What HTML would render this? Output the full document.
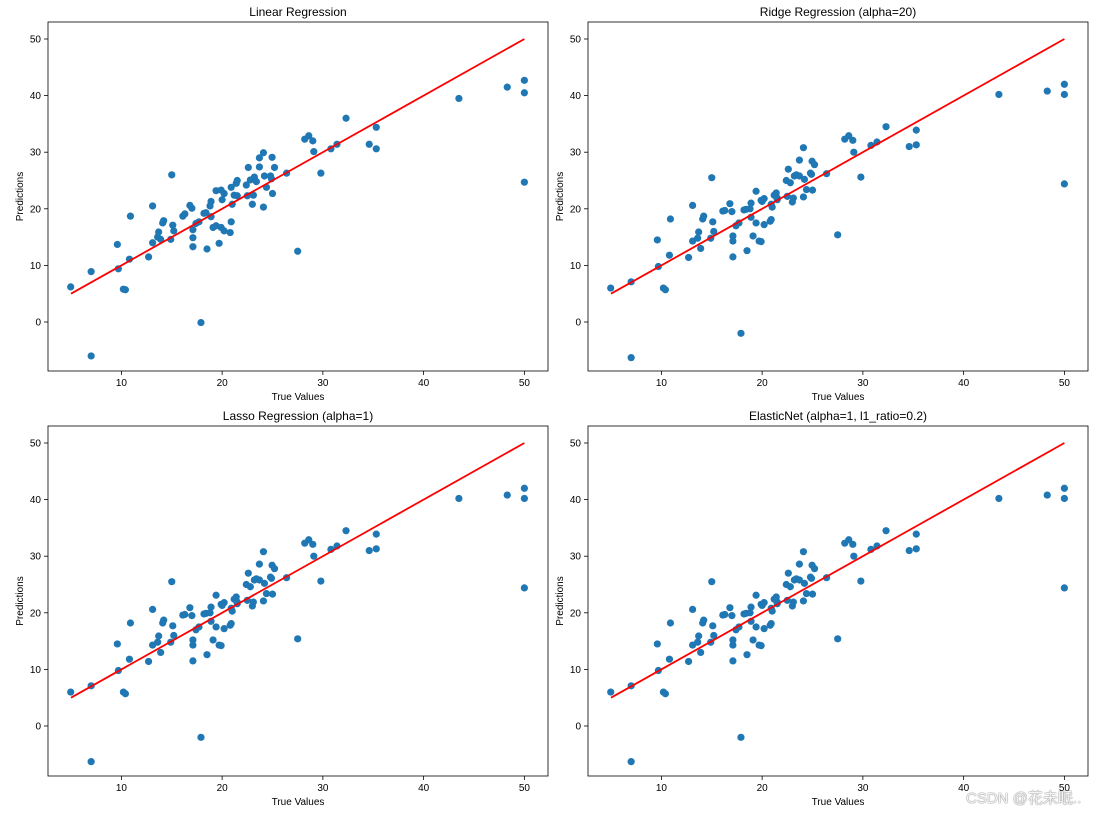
<!DOCTYPE html>
<html><head><meta charset="utf-8"><style>
body{margin:0;background:#fff;width:1104px;height:814px;overflow:hidden;font-family:"Liberation Sans","Noto Sans CJK SC",sans-serif}
svg{position:absolute;left:0;top:0}
.wm{position:absolute;left:966px;top:787px;font-size:15px;color:#f4f4f4;text-shadow:0 0 1px #777,0 0 1px #777}
</style></head><body>
<svg id="c" width="1104" height="814"></svg>
<div class="wm">CSDN @花未眠..</div>
<script>
const trueVals=[4.97,7.0,7.0,9.6,9.7,10.2,10.4,10.8,10.9,12.7,13.1,13.1,13.6,13.7,13.9,14.1,14.2,14.9,15.0,15.1,15.2,16.1,16.3,16.8,17.0,17.1,17.1,17.1,17.4,17.7,17.9,18.2,18.4,18.5,18.8,18.9,18.9,19.1,19.4,19.4,19.9,19.7,19.9,20.2,20.0,20.2,20.8,20.9,20.9,21.0,21.2,21.5,21.4,21.5,22.4,22.5,22.6,22.8,23.2,23.4,23.0,23.1,23.7,24.1,23.7,24.1,24.2,24.4,24.8,24.9,24.96,25.0,25.2,26.4,27.5,28.2,28.6,29.0,29.1,29.8,30.8,31.4,32.3,35.3,35.3,34.6,43.5,48.3,50,50,50];
const linearPred=[6.2,8.9,-6.0,13.7,9.4,5.8,5.7,11.1,18.7,11.5,14.0,20.5,15.0,15.9,14.6,17.5,17.9,14.6,26.0,17.1,16.1,18.7,19.1,20.6,20.1,16.3,14.9,13.3,17.4,17.7,-0.1,19.2,19.3,12.9,20.5,21.3,18.6,16.7,17.0,23.2,23.3,13.9,16.7,16.1,21.6,22.7,15.8,17.7,23.8,20.8,22.4,22.3,24.5,25.0,24.2,22.3,27.3,25.1,25.6,24.8,20.8,22.4,29.0,29.9,27.4,20.3,25.8,23.8,25.8,25.3,29.1,22.7,27.3,26.3,12.5,32.3,32.9,32.0,30.1,26.3,30.6,31.4,36.0,34.4,30.6,31.4,39.5,41.5,42.7,40.5,24.7];
const ridgePred=[6.0,7.1,-6.3,14.5,9.8,6.0,5.7,11.8,18.2,11.4,14.3,20.6,14.8,15.9,13.0,18.2,18.7,14.8,25.5,17.7,16.0,19.6,19.7,20.9,19.5,15.2,14.3,11.5,17.0,17.5,-2.0,19.8,19.9,12.6,20.0,21.0,18.5,15.2,17.5,23.1,21.5,14.3,14.2,17.2,21.3,21.8,17.8,18.1,20.8,20.3,22.4,21.9,22.8,21.6,25.0,22.2,27.0,24.6,25.8,26.0,21.2,21.9,28.6,30.8,25.8,22.1,25.2,23.4,26.3,26.1,28.4,23.3,27.8,26.2,15.4,32.3,32.9,32.1,30.0,25.6,31.2,31.8,34.5,33.9,31.3,31.0,40.2,40.8,42.0,40.2,24.4];
const lassoPred=ridgePred.slice();
const enetPred=ridgePred.slice();
const xTicks=[10,20,30,40,50];
const yTicks=[0,10,20,30,40,50];
const NS='http://www.w3.org/2000/svg';
const svg=document.getElementById('c');
function mk(t,a,p){const e=document.createElementNS(NS,t);for(const k in a)e.setAttribute(k,a[k]);(p||svg).appendChild(e);return e;}
const panels=[
 {x0:48,y0:22,title:'Linear Regression',pred:linearPred,n:'linear'},
 {x0:588,y0:22,title:'Ridge Regression (alpha=20)',pred:ridgePred,n:'ridge'},
 {x0:48,y0:426,title:'Lasso Regression (alpha=1)',pred:lassoPred,n:'lasso'},
 {x0:588,y0:426,title:'ElasticNet (alpha=1, l1_ratio=0.2)',pred:enetPred,n:'elasticnet'}];
panels.forEach(p=>{
 const W=500,H=349+(p.y0>400?1:0);
 const g=mk('g',{});
 
 
 const sx=v=>p.x0+23+(v-5)*10.075;
 const sy=v=>p.y0+300-v*5.66;
 const t=mk('text',{x:p.x0+W/2,y:p.y0-6,'text-anchor':'middle','font-size':12,fill:'#000'},g);t.textContent=p.title;
 
 xTicks.forEach(v=>{const x=sx(v);mk('line',{x1:x,x2:x,y1:p.y0+H,y2:p.y0+H+4,stroke:'#000','stroke-width':0.8},g);
  const l=mk('text',{x:x,y:p.y0+H+15,'text-anchor':'middle','font-size':10},g);l.textContent=v;
  });
 yTicks.forEach(v=>{const y=sy(v);mk('line',{x1:p.x0-4,x2:p.x0,y1:y,y2:y,stroke:'#000','stroke-width':0.8},g);
  const l=mk('text',{x:p.x0-7,y:y+3.5,'text-anchor':'end','font-size':10},g);l.textContent=v;
  });
 const xl=mk('text',{x:p.x0+W/2,y:p.y0+H+29,'text-anchor':'middle','font-size':10},g);xl.textContent='True Values';
 
 const yl=mk('text',{x:0,y:0,'text-anchor':'middle','font-size':10,transform:`translate(${p.x0-25},${p.y0+H/2}) rotate(-90)`},g);yl.textContent='Predictions';
 
 trueVals.forEach((tv,i)=>{const c=mk('circle',{cx:sx(tv),cy:sy(p.pred[i]),r:3.6,fill:'#1f77b4'},g);
  });
 const ln=mk('line',{x1:sx(5),y1:sy(5),x2:sx(50),y2:sy(50),stroke:'#f00','stroke-width':1.8},g);
 
 const fr=mk('rect',{x:p.x0,y:p.y0,width:W,height:H,fill:'none',stroke:'#000','stroke-width':0.8},g);
 
});
</script>
</body></html>
